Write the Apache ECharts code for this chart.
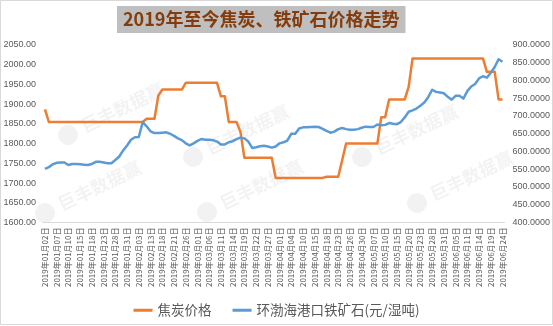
<!DOCTYPE html>
<html>
<head>
<meta charset="utf-8">
<script src="https://cdn.jsdelivr.net/npm/echarts@6/dist/echarts.min.js"></script>
<style>
html,body{margin:0;padding:0;background:#fff;}
#chart{width:553px;height:326px;}
</style>
</head>
<body>
<div id="chart"></div>
<script>
// Trading days, 2019
const dates = [
'2019年01月02日','2019年01月03日','2019年01月04日','2019年01月07日','2019年01月08日','2019年01月09日','2019年01月10日','2019年01月11日','2019年01月14日','2019年01月15日',
'2019年01月16日','2019年01月17日','2019年01月18日','2019年01月21日','2019年01月22日','2019年01月23日','2019年01月24日','2019年01月25日','2019年01月28日','2019年01月29日',
'2019年01月30日','2019年01月31日','2019年02月01日','2019年02月02日','2019年02月03日','2019年02月11日','2019年02月12日','2019年02月13日','2019年02月14日','2019年02月15日',
'2019年02月18日','2019年02月19日','2019年02月20日','2019年02月21日','2019年02月22日','2019年02月25日','2019年02月26日','2019年02月27日','2019年02月28日','2019年03月01日',
'2019年03月04日','2019年03月05日','2019年03月06日','2019年03月07日','2019年03月08日','2019年03月11日','2019年03月12日','2019年03月13日','2019年03月14日','2019年03月15日',
'2019年03月18日','2019年03月19日','2019年03月20日','2019年03月21日','2019年03月22日','2019年03月25日','2019年03月26日','2019年03月27日','2019年03月28日','2019年03月29日',
'2019年04月01日','2019年04月02日','2019年04月03日','2019年04月04日','2019年04月08日','2019年04月09日','2019年04月10日','2019年04月11日','2019年04月12日','2019年04月15日',
'2019年04月16日','2019年04月17日','2019年04月18日','2019年04月19日','2019年04月22日','2019年04月23日','2019年04月24日','2019年04月25日','2019年04月26日','2019年04月28日',
'2019年04月29日','2019年04月30日','2019年05月05日','2019年05月06日','2019年05月07日','2019年05月08日','2019年05月09日','2019年05月10日','2019年05月13日','2019年05月14日',
'2019年05月15日','2019年05月16日','2019年05月17日','2019年05月20日','2019年05月21日','2019年05月22日','2019年05月23日','2019年05月24日','2019年05月27日','2019年05月28日',
'2019年05月29日','2019年05月30日','2019年05月31日','2019年06月03日','2019年06月04日','2019年06月05日','2019年06月06日','2019年06月10日','2019年06月11日','2019年06月12日',
'2019年06月13日','2019年06月14日','2019年06月17日','2019年06月18日','2019年06月19日','2019年06月20日','2019年06月21日','2019年06月24日'
];

// 焦炭价格 (left axis)
const cokePrice = [
1887,1855,1855,1855,1855,1855,1855,1855,1855,1855,
1855,1855,1855,1855,1855,1855,1855,1855,1855,1855,
1855,1855,1855,1855,1855,1855,1863,1863,1863,1922,
1937,1937,1937,1937,1937,1937,1954,1954,1954,1954,
1954,1954,1954,1954,1954,1920,1920,1855,1855,1855,
1829,1764,1764,1764,1764,1764,1764,1764,1764,1713,
1713,1713,1713,1713,1713,1713,1713,1713,1713,1713,
1713,1713,1716,1716,1716,1716,1758,1800,1800,1800,
1800,1800,1800,1800,1800,1800,1867,1867,1912,1912,
1912,1912,1912,1944,2016,2016,2016,2016,2016,2016,
2016,2016,2016,2016,2016,2016,2016,2016,2016,2016,
2016,2016,2016,1982,1982,1982,1912,1912
];

// 环渤海港口铁矿石 (元/湿吨, right axis)
const orePrice = [
551,556,564,568,569,569,562,565,565,564,
563,562,565,571,571,569,567,567,576,586,
603,617,633,640,641,683,671,657,652,652,
653,654,650,644,637,632,623,617,623,630,
635,633,633,632,628,620,620,626,629,635,
639,637,628,610,612,615,616,614,611,614,
623,626,631,650,650,665,668,668,669,670,
669,664,658,653,656,663,666,663,661,661,
663,667,670,669,669,676,674,675,680,678,
677,683,696,712,716,721,729,738,753,774,
768,766,764,754,746,757,757,749,770,783,
790,806,812,808,822,838,860,853
];

const leftTicks = { min: 1600, max: 2050, step: 50 };
const rightTicks = { min: 400, max: 900, step: 50 };

const seriesNames = ['焦炭价格', '环渤海港口铁矿石(元/湿吨)'];
const titleText = '2019年至今焦炭、铁矿石价格走势';
const watermarkText = '巨丰数据赢';

const FONT = '"Liberation Sans", "Noto Sans CJK SC", sans-serif';
const CJK = '"Noto Sans CJK SC", sans-serif';

// faint diagonal brand watermarks
const marks = [
  [68, 135], [45, 213], [193, 157], [207, 212], [362, 157], [417, 203]
];
const wmColor = 'rgba(0,0,0,0.05)';
const watermarks = marks.map(function (p) {
  return {
    type: 'group',
    x: p[0], y: p[1],
    rotation: 0.45,
    silent: true,
    z: 0,
    children: [
      { type: 'circle', shape: { cx: 0, cy: 0, r: 10 }, style: { fill: wmColor } },
      { type: 'text', x: 16, y: -10, style: { text: watermarkText, font: 'bold 18px ' + CJK, fill: wmColor } }
    ]
  };
});

const chart = echarts.init(document.getElementById('chart'), null, { renderer: 'canvas' });

chart.setOption({
  backgroundColor: '#fff',
  animation: false,
  title: {
    text: titleText,
    left: 117,
    top: 6,
    padding: [3, 6, 3, 6],
    backgroundColor: '#BFBFBF',
    textStyle: { fontFamily: CJK, fontSize: 18, fontWeight: 'bold', color: '#843C0C', lineHeight: 21 }
  },
  graphic: [
    {
      type: 'rect', silent: true, z: -1,
      shape: { x: 0.5, y: 0.5, width: 552, height: 324 },
      style: { fill: 'none', stroke: '#D9D9D9', lineWidth: 1 }
    }
  ].concat(watermarks),
  legend: {
    bottom: 4,
    left: 'center',
    itemGap: 21,
    itemWidth: 19,
    itemHeight: 3,
    icon: 'rect',
    textStyle: { fontFamily: CJK, fontSize: 13.5, color: '#595959' },
    data: seriesNames
  },
  grid: { left: 43, right: 48, top: 45, bottom: 103.5, containLabel: false },
  xAxis: {
    type: 'category',
    data: dates,
    boundaryGap: true,
    axisLine: { lineStyle: { color: '#D9D9D9', width: 1 } },
    axisTick: { show: false },
    axisLabel: {
      interval: 2,
      rotate: 90,
      margin: 5,
      fontSize: 8,
      fontFamily: CJK,
      color: '#595959'
    },
    splitLine: { show: false }
  },
  yAxis: [
    {
      type: 'value',
      min: leftTicks.min, max: leftTicks.max, interval: leftTicks.step,
      axisLine: { show: false }, axisTick: { show: false },
      splitLine: { show: false },
      axisLabel: {
        margin: 7, fontSize: 9, fontFamily: FONT, color: '#595959',
        formatter: function (v) { return v.toFixed(2); }
      }
    },
    {
      type: 'value',
      min: rightTicks.min, max: rightTicks.max, interval: rightTicks.step,
      axisLine: { show: false }, axisTick: { show: false },
      splitLine: { show: false },
      axisLabel: {
        margin: 8, fontSize: 9, fontFamily: FONT, color: '#595959',
        formatter: function (v) { return v.toFixed(4); }
      }
    }
  ],
  series: [
    {
      name: seriesNames[0], type: 'line', yAxisIndex: 0,
      data: cokePrice, showSymbol: false, symbol: 'none',
      lineStyle: { color: '#ED7D31', width: 2.5, join: 'round' },
      itemStyle: { color: '#ED7D31' }, z: 3
    },
    {
      name: seriesNames[1], type: 'line', yAxisIndex: 1,
      data: orePrice, showSymbol: false, symbol: 'none',
      lineStyle: { color: '#5B9BD5', width: 2.5, join: 'round' },
      itemStyle: { color: '#5B9BD5' }, z: 4
    }
  ]
});
</script>
</body>
</html>
